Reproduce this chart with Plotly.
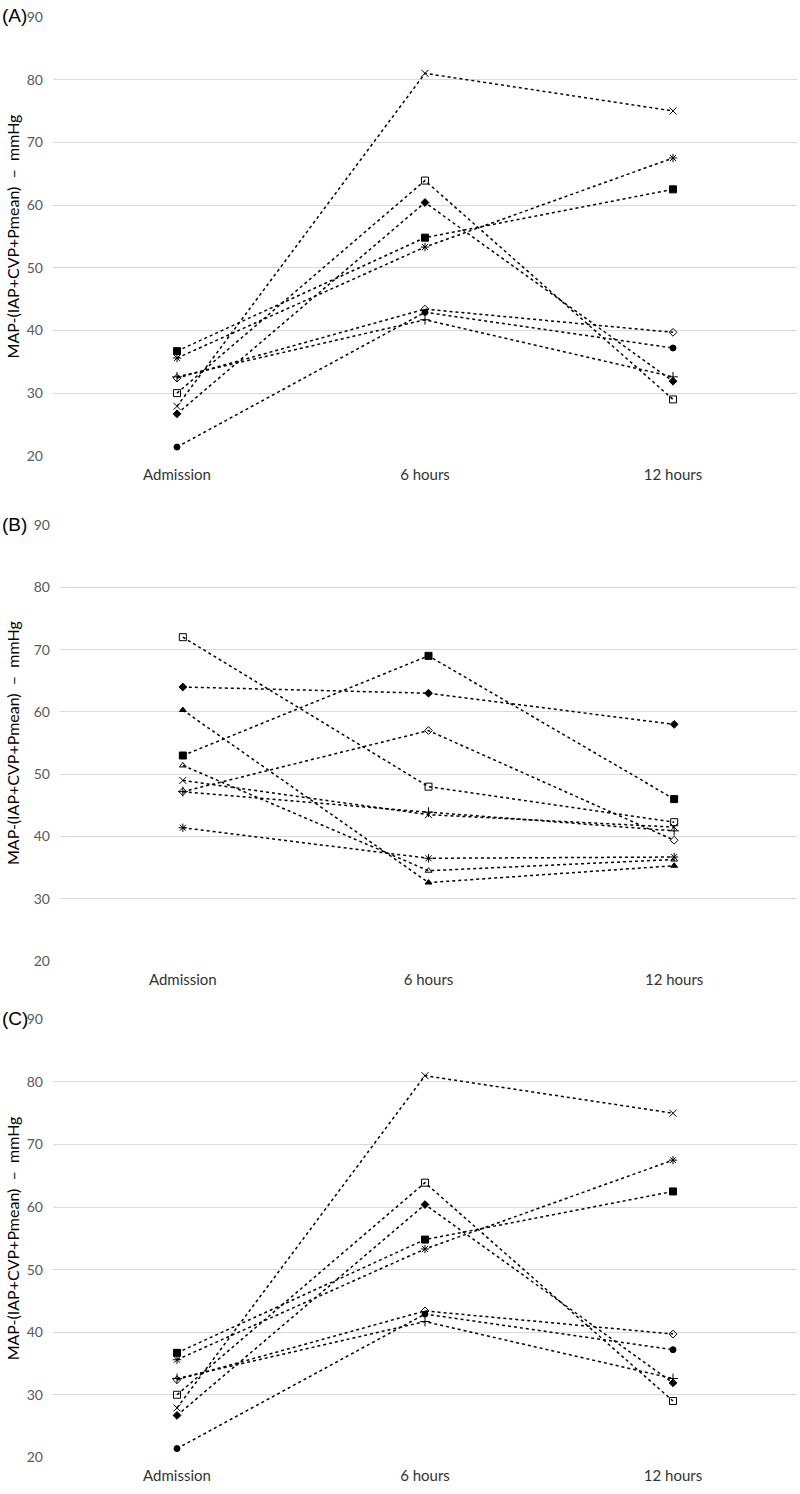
import plotly.graph_objects as go

W, H = 800, 1494
categories = ["Admission", "6 hours", "12 hours"]
y_ticks = [20, 30, 40, 50, 60, 70, 80, 90]

# Panel A (and C, identical)
a_names = ["x", "open square", "filled diamond", "filled square", "asterisk",
           "open diamond", "filled circle", "plus"]
a_symbols = ["x-thin-open", "square-open", "diamond", "square", "asterisk-open",
             "diamond-open", "circle", "cross-thin-open"]
a_values = [
    [27.9, 81.0, 75.0],
    [30.0, 63.9, 29.0],
    [26.7, 60.4, 31.9],
    [36.7, 54.8, 62.5],
    [35.6, 53.3, 67.5],
    [32.4, 43.4, 39.7],
    [21.4, 42.9, 37.2],
    [32.6, 41.7, 32.6],
]

# Panel B
b_names = ["open square", "filled diamond", "filled triangle", "filled square",
           "open triangle", "x", "open diamond", "plus", "asterisk"]
b_symbols = ["square-open", "diamond", "triangle-up", "square", "triangle-up-open",
             "x-thin-open", "diamond-open", "cross-thin-open", "asterisk-open"]
b_values = [
    [72.0, 48.0, 42.3],
    [64.0, 63.0, 58.0],
    [60.3, 32.6, 35.3],
    [53.0, 69.0, 46.0],
    [51.4, 34.5, 36.3],
    [49.0, 43.5, 41.5],
    [47.2, 57.0, 39.4],
    [47.2, 43.9, 40.9],
    [41.4, 36.5, 36.7],
]

panel_labels = ["(A)", "(B)", "(C)"]
y_title = "MAP-(IAP+CVP+Pmean)  \u2013  mmHg"

fig = go.Figure()

def px_y(p):
    return 1 - p / H

def add_series(names, symbols, values, ax):
    for n, s, v in zip(names, symbols, values):
        size = 7 if s in ("square", "square-open", "x-thin-open", "asterisk-open", "cross-thin-open") else 6
        fig.add_trace(go.Scatter(
            x=categories, y=v, name=n, mode="lines+markers",
            line=dict(color="black", width=1.5, dash="dot"),
            marker=dict(symbol=s, size=size, color="black",
                        line=dict(color="black", width=1)),
            xaxis="x" + ("" if ax == 1 else str(ax)),
            yaxis="y" + ("" if ax == 1 else str(ax)),
            showlegend=False, hoverinfo="skip"))

add_series(a_names, a_symbols, a_values, 1)
add_series(b_names, b_symbols, b_values, 2)
add_series(a_names, a_symbols, a_values, 3)

panels = [
    dict(top=8, bottom=452, left=53),
    dict(top=522, bottom=963, left=60),
    dict(top=1022, bottom=1465, left=53),
]

layout = dict(
    width=W, height=H, margin=dict(l=0, r=0, t=0, b=0),
    plot_bgcolor="white", paper_bgcolor="white",
    font=dict(family="Lato, Open Sans, sans-serif", color="#404040"),
    showlegend=False,
)
annotations = []
for i, p in enumerate(panels):
    suf = "" if i == 0 else str(i + 1)
    layout["xaxis" + suf] = dict(
        domain=[p["left"] / W, 797 / W], anchor="y" + suf,
        type="category", range=[-0.5, 2.5], showgrid=False, showline=False,
        zeroline=False, ticks="", tickfont=dict(size=15, color="#333333"),
        ticklabelstandoff=8,
    )
    layout["yaxis" + suf] = dict(
        domain=[px_y(p["bottom"]), px_y(p["top"])], anchor="x" + suf,
        range=[20, 90], tickvals=y_ticks, showgrid=True, gridcolor="#d9d9d9",
        gridwidth=1, zeroline=False, showline=False, ticks="",
        tickfont=dict(size=14, color="#595959"), ticklabelstandoff=9,
    )
    annotations.append(dict(
        text=y_title, textangle=-90, x=12 / W, y=px_y((p["top"] + p["bottom"]) / 2),
        xref="paper", yref="paper", showarrow=False, xanchor="center", yanchor="middle",
        font=dict(size=16, color="#000000")))
    annotations.append(dict(
        text=panel_labels[i], x=0, y=px_y(p["top"] - 1), xref="paper", yref="paper",
        showarrow=False, xanchor="left", yanchor="middle",
        font=dict(size=19, color="#000000", family="Liberation Sans, Arial, sans-serif")))

layout["annotations"] = annotations
fig.update_layout(**layout)
fig.write_html(
    "out.html",
    config={"displayModeBar": False, "staticPlot": True},
    post_script="document.body.style.margin='0';document.documentElement.style.margin='0';"
                "document.body.style.overflow='hidden';document.documentElement.style.overflow='hidden';",
)
